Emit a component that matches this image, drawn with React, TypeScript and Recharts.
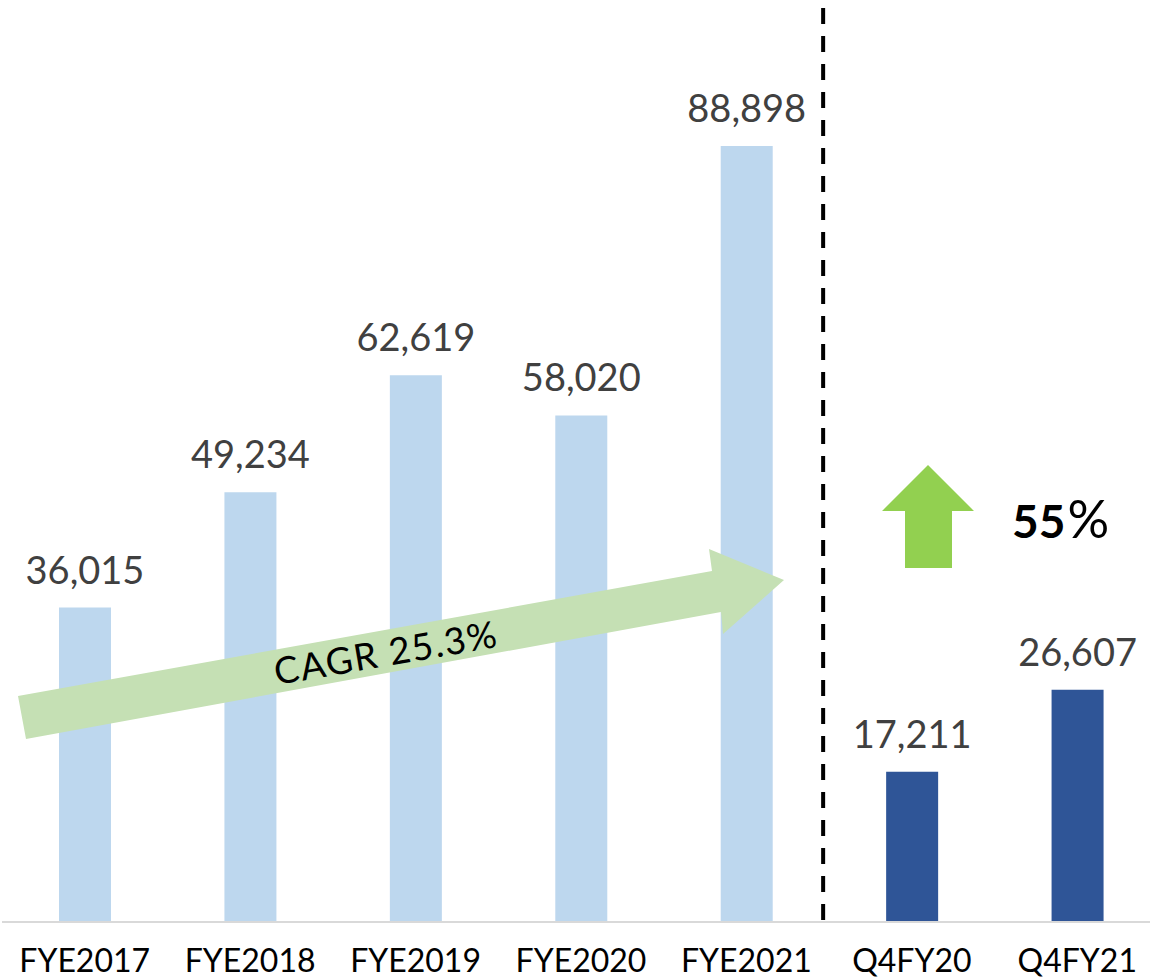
import React from 'react';
import { BarChart, Bar, XAxis, YAxis, Cell, LabelList, ReferenceLine } from 'recharts';

const categories = ['FYE2017', 'FYE2018', 'FYE2019', 'FYE2020', 'FYE2021', 'Q4FY20', 'Q4FY21'];
const revenue = [36015, 49234, 62619, 58020, 88898, 17211, 26607];
const periodType = ['annual', 'annual', 'annual', 'annual', 'annual', 'quarter', 'quarter'];
const yDomain: [number, number] = [0, 100000];
const cagrLabel = 'CAGR 25.3%';
const growthLabel = '55';

const data = categories.map((name, i) => ({ name, value: revenue[i], type: periodType[i] }));

const FONT = 'Lato, "Open Sans", sans-serif';
const ANNUAL = '#BDD7EE';
const QUARTER = '#2F5597';

function DashedDivider(props: any) {
  const { x1, x2, y1, y2 } = props;
  const top = Math.min(y1, y2);
  const bottom = Math.max(y1, y2);
  return (
    <line
      x1={x1 - 6}
      x2={x2 - 6}
      y1={top - 41}
      y2={bottom - 2}
      stroke="#000"
      strokeWidth={4}
      strokeDasharray="16 12"
    />
  );
}

export default function App() {
  return (
    <div style={{ position: 'absolute', left: 0, top: 0, width: 1150, height: 980, overflow: 'hidden', background: '#fff' }}>
      <BarChart
        width={1160}
        height={980}
        data={data}
        margin={{ top: 49, right: 0, bottom: 0, left: 2 }}
        barCategoryGap={0}
      >
        <XAxis
          dataKey="name"
          height={58}
          tickLine={false}
          tickSize={0}
          tickMargin={27}
          axisLine={{ stroke: '#D9D9D9', strokeWidth: 2 }}
          tick={{ fill: '#000', fontSize: 32, fontFamily: FONT }}
          interval={0}
        />
        <YAxis hide domain={yDomain} />
        <Bar dataKey="value" barSize={52} isAnimationActive={false}>
          {data.map((d, i) => (
            <Cell key={i} fill={d.type === 'annual' ? ANNUAL : QUARTER} />
          ))}
          <LabelList
            dataKey="value"
            position="top"
            offset={24}
            formatter={(v: any) => Number(v).toLocaleString('en-US')}
            style={{ fill: '#404040', fontSize: 38, fontFamily: FONT }}
          />
        </Bar>
        <ReferenceLine x="Q4FY20" position="start" shape={DashedDivider} ifOverflow="visible" />
      </BarChart>
      <svg
        width={1150}
        height={980}
        style={{ position: 'absolute', left: 0, top: 0, pointerEvents: 'none' }}
      >
        <polygon
          points="18,696 712,571 709,549 784,580 723,634 721,612 26,739"
          fill="#C5E0B4"
        />
        <text
          x={386}
          y={666}
          textAnchor="middle"
          transform="rotate(-9.8 386 653)"
          fontFamily={FONT}
          fontSize={37}
          letterSpacing={1.5}
          fill="#000"
        >
          {cagrLabel}
        </text>
        <polygon
          points="928,465 974,511 952,511 952,568 905,568 905,511 882,511"
          fill="#92D050"
        />
        <text x={1012} y={538} fontFamily={FONT} fill="#000">
          <tspan fontWeight={700} fontSize={46}>{growthLabel}</tspan>
          <tspan fontWeight={400} fontSize={52} dx={2}>%</tspan>
        </text>
      </svg>
    </div>
  );
}
